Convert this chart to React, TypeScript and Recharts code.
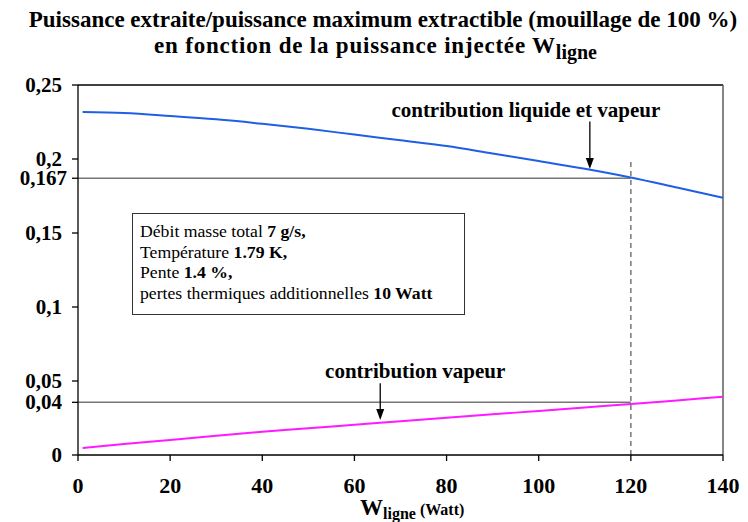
import React from 'react';
import { LineChart, Line, XAxis, YAxis, ReferenceLine } from 'recharts';

// W_ligne (Watt)
const watts = [1, 10, 20, 30, 40, 50, 60, 70, 80, 90, 100, 110, 120, 130, 140];
// contribution liquide et vapeur
const liquidVapour = [0.2318, 0.2311, 0.2291, 0.2268, 0.2238, 0.2204, 0.2165, 0.2127, 0.2088, 0.2037, 0.1986, 0.1934, 0.1875, 0.1807, 0.1738];
// contribution vapeur
const vapourOnly = [0.0047, 0.0075, 0.0101, 0.013, 0.0157, 0.018, 0.0205, 0.0228, 0.0252, 0.0275, 0.0298, 0.0321, 0.0344, 0.0369, 0.0394];

const xTicks = [0, 20, 40, 60, 80, 100, 120, 140];
const yTickValues = [0, 0.0356, 0.05, 0.1, 0.15, 0.187, 0.2, 0.25];
const yTickLabels = ['0', '0,04', '0,05', '0,1', '0,15', '0,167', '0,2', '0,25'];

const operatingW = 120;
const levelTotal = 0.187;
const levelVapour = 0.0356;

const data = watts.map((w, i) => ({ w, total: liquidVapour[i], vapeur: vapourOnly[i] }));

const serif = '"Liberation Serif", "Times New Roman", serif';

const YTick = (props: any) => {
  const { y, payload } = props;
  const i = yTickValues.indexOf(payload.value);
  const label = yTickLabels[i];
  // the 0,167 label sits a little further right, as in the source
  const right = label === '0,167' ? 67 : 62;
  return (
    <text x={right} y={y} dy={7} textAnchor="end" fontFamily={serif} fontWeight="bold" fontSize={21} fill="#000">
      {label}
    </text>
  );
};

const XTick = (props: any) => {
  const { x, y, payload } = props;
  return (
    <text x={x} y={y} dy={20} textAnchor="middle" fontFamily={serif} fontWeight="bold" fontSize={22} fill="#000">
      {payload.value}
    </text>
  );
};

// arrow with a caption above it
const arrowShape = (caption: string, textDx: number) => (props: any) => {
  const { x1, y1, x2, y2 } = props;
  return (
    <g>
      <text x={x1 + textDx} y={y1 - 5} textAnchor="middle" fontFamily={serif} fontWeight="bold" fontSize={21} fill="#000">
        {caption}
      </text>
      <line x1={x1} y1={y1} x2={x2} y2={y2 - 9} stroke="#000" strokeWidth={1.3} />
      <polygon points={`${x2 - 4},${y2 - 11} ${x2 + 4},${y2 - 11} ${x2},${y2}`} fill="#000" />
    </g>
  );
};

export default function App() {
  return (
    <div style={{ position: 'absolute', left: 0, top: 0, width: 748, height: 522, background: '#fff', fontFamily: serif }}>
      <div style={{ position: 'absolute', left: 0, top: 7, width: 766, textAlign: 'center', fontWeight: 'bold', fontSize: 23, lineHeight: '26px' }}>
        Puissance extraite/puissance maximum extractible (mouillage de 100 %)
      </div>
      <div style={{ position: 'absolute', left: 0, top: 33, width: 751, textAlign: 'center', fontWeight: 'bold', fontSize: 23, lineHeight: '26px', letterSpacing: 0.8 }}>
        en fonction de la puissance injectée W<sub style={{ fontSize: 20, lineHeight: 0, letterSpacing: 0 }}>ligne</sub>
      </div>

      <LineChart width={748} height={522} data={data} margin={{ top: 85, right: 25, left: 18, bottom: 37 }}>
        <XAxis
          dataKey="w"
          type="number"
          domain={[0, 140]}
          ticks={xTicks}
          tick={<XTick />}
          tickSize={6}
          tickMargin={12}
          stroke="#000"
          strokeWidth={1.3}
          height={30}
        />
        <YAxis
          type="number"
          domain={[0, 0.25]}
          ticks={yTickValues}
          tick={<YTick />}
          tickSize={6}
          tickMargin={6}
          stroke="#000"
          strokeWidth={1.3}
          width={60}
          interval={0}
        />
        <ReferenceLine y={0.25} stroke="#000" strokeWidth={1.3} />
        <ReferenceLine x={140} stroke="#444" strokeWidth={1.3} />
        <ReferenceLine segment={[{ x: 0, y: levelTotal }, { x: operatingW, y: levelTotal }]} stroke="#777" strokeWidth={1.5} />
        <ReferenceLine segment={[{ x: 0, y: levelVapour }, { x: operatingW, y: levelVapour }]} stroke="#777" strokeWidth={1.5} />
        <ReferenceLine
          segment={[{ x: operatingW, y: 0 }, { x: operatingW, y: 0.2 }]}
          stroke="#777"
          strokeWidth={1.5}
          strokeDasharray="5 4"
        />
        <Line type="monotone" dataKey="total" stroke="#1f5fe6" strokeWidth={2} dot={false} isAnimationActive={false} />
        <Line type="monotone" dataKey="vapeur" stroke="#ff1aff" strokeWidth={2} dot={false} isAnimationActive={false} />
        <ReferenceLine
          segment={[{ x: 111.1, y: 0.2253 }, { x: 111.1, y: 0.1932 }]}
          shape={arrowShape('contribution liquide et vapeur', -64)}
        />
        <ReferenceLine
          segment={[{ x: 65.6, y: 0.0484 }, { x: 65.6, y: 0.0236 }]}
          shape={arrowShape('contribution vapeur', 35)}
        />
      </LineChart>

      <div style={{ position: 'absolute', left: 360, top: 496, fontWeight: 'bold', whiteSpace: 'nowrap', lineHeight: 1 }}>
        <span style={{ fontSize: 23 }}>W</span>
        <sub style={{ fontSize: 16, lineHeight: 0 }}>ligne</sub>
        <span style={{ fontSize: 16 }}> (Watt)</span>
      </div>

      <div
        style={{
          position: 'absolute',
          left: 132,
          top: 213,
          width: 333,
          height: 102,
          boxSizing: 'border-box',
          border: '1.3px solid #333',
          background: '#fff',
          padding: '7px 0 0 7px',
          fontSize: 17.7,
          lineHeight: '20.7px',
          whiteSpace: 'nowrap',
        }}
      >
        Débit masse total <b>7 g/s,</b>
        <br />
        Température <b>1.79 K,</b>
        <br />
        Pente <b>1.4 %,</b>
        <br />
        pertes thermiques additionnelles <b>10 Watt</b>
      </div>
    </div>
  );
}
